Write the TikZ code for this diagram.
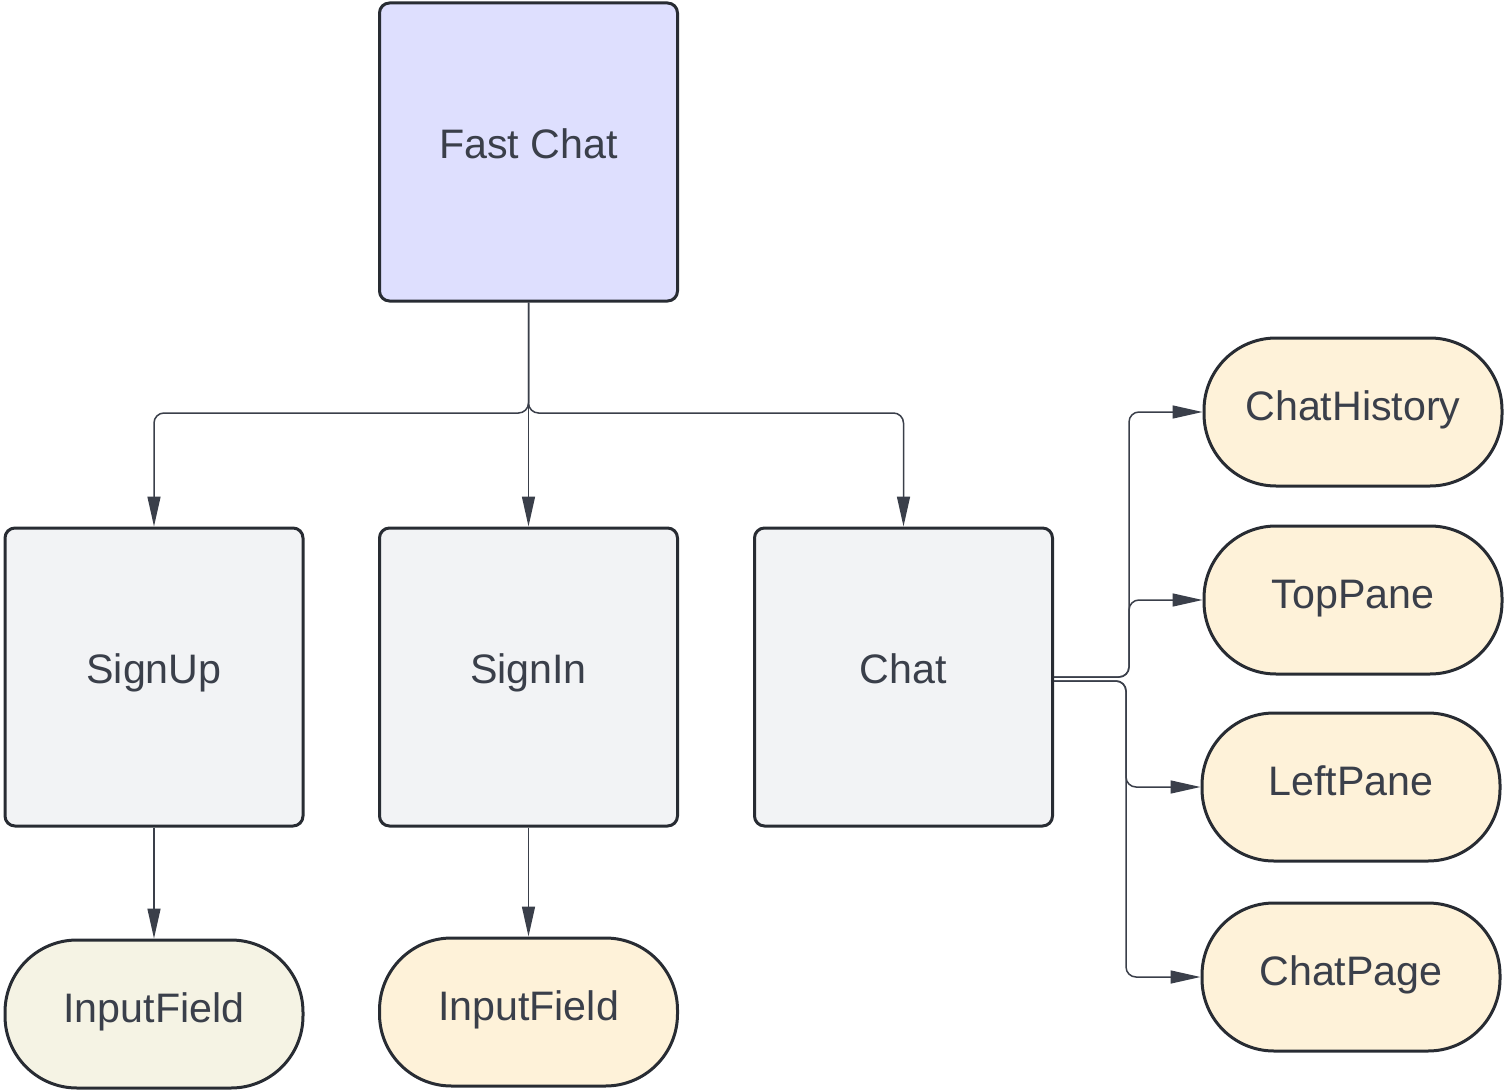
\documentclass[tikz,border=0pt]{standalone}
\usepackage{fontspec}
\setmainfont{Liberation Sans}
\usetikzlibrary{arrows.meta,calc,positioning}
\definecolor{linegray}{HTML}{3A3F4A}
\definecolor{bordergray}{HTML}{282C33}
\definecolor{lavender}{HTML}{DEDFFE}
\definecolor{boxgray}{HTML}{F2F3F5}
\definecolor{cream}{HTML}{FEF2D9}
\definecolor{paleolive}{HTML}{F5F3E4}

\begin{document}
\begin{tikzpicture}[x=0.5pt,y=-0.5pt]
        \useasboundingbox (0,0) rectangle (1504,1091);

        % Setup the style for the blocks
        \tikzset{box style/.style={draw=bordergray,
                                   line width=1.5pt,
                                   rounded corners=5pt,
                                   minimum width=149pt,
                                   minimum height=149pt,
                                   inner sep=0pt,
                                   text height=0.72em,
                                   text depth=0.05em,
                                   text=linegray,
                                   font=\fontsize{20.6}{24}\selectfont,
                                   fill=boxgray},
                 pill style/.style={box style,
                                    rounded corners=36pt,
                                    minimum height=74pt,
                                    text height=0.8em,
                                    text depth=0em,
                                    fill=cream},
                 link style/.style={draw=linegray,
                                    line width=0.75pt,
                                    rounded corners=5pt,
                                    -{Triangle[length=15pt,width=6.5pt]}}}
        % Draw the blocks
        \node[box style,fill=lavender] at (528.5, 152)   (fast)     {Fast Chat};
        \node[box style] at (154, 677)     (signup)   {SignUp};
        \node[box style] at (528.5, 677)   (signin)   {SignIn};
        \node[box style] at (903.5, 677)   (chat)     {Chat};
        \node[pill style,fill=paleolive] at (154, 1014)  (upfield)  {InputField};
        \node[pill style] at (528.5, 1012) (infield)  {InputField};
        \node[pill style] at (1353, 412)   (history)  {ChatHistory};
        \node[pill style] at (1353, 600)   (toppane)  {TopPane};
        \node[pill style] at (1351, 787)   (leftpane) {LeftPane};
        \node[pill style] at (1351, 977)   (chatpage) {ChatPage};
        \coordinate (split) at (528.5, 413);

        % Connect the blocks with arrows
        \draw[link style] (fast.south) -- (signin.north);
        \draw[link style] (fast.south) -- (split) -| (signup.north);
        \draw[link style] (fast.south) -- (split) -| (chat.north);
        \draw[link style] (signup.south) -- (upfield.north);
        \draw[link style] (signin.south) -- (infield.north);
        \draw[link style] (chat.east) -- ++(75,0) |- (history.west);
        \draw[link style] (chat.east) -- ++(75,0) |- (toppane.west);
        \draw[link style] ([yshift=-2pt]chat.east) -- ++(72,0) |- (leftpane.west);
        \draw[link style] ([yshift=-2pt]chat.east) -- ++(72,0) |- (chatpage.west);
\end{tikzpicture}
\end{document}
